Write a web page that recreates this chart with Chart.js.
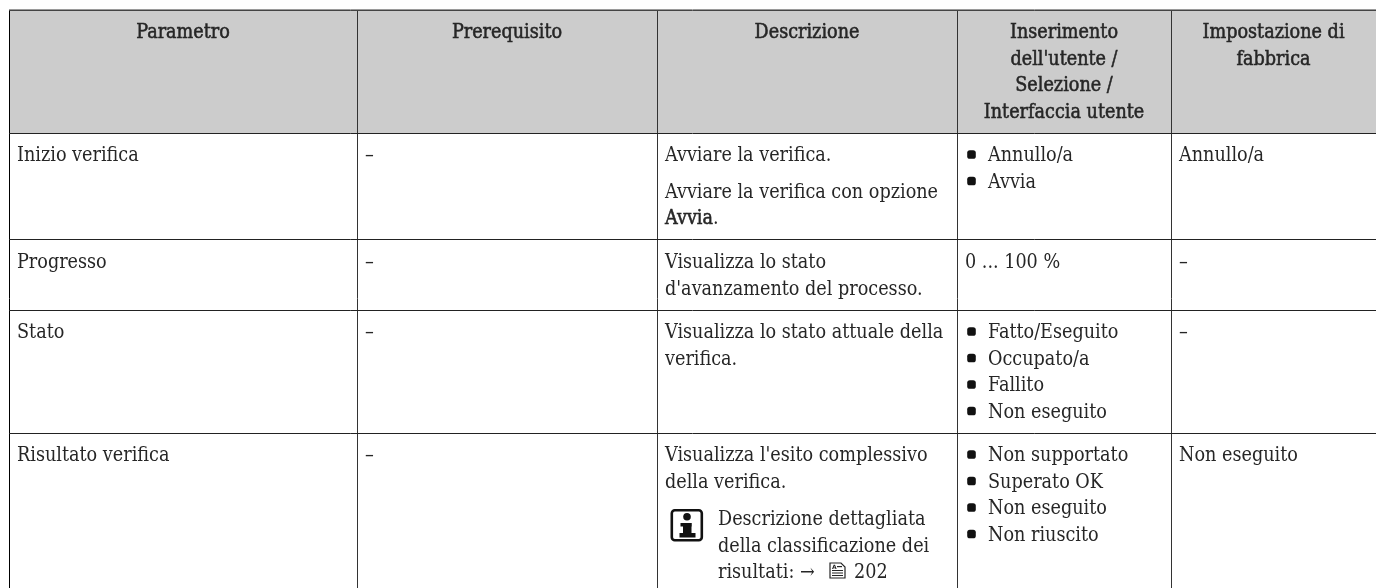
<!DOCTYPE html>
<html>
<head>
<meta charset="utf-8">
<title>Parametri verifica</title>
<script src="https://cdn.jsdelivr.net/npm/chart.js@4.4.1/dist/chart.umd.min.js"></script>
<style>
  html, body { margin: 0; background: #fff; }
  canvas { display: block; }
</style>
</head>
<body>
<canvas id="table" width="1376" height="588"></canvas>
<script>
// Table content, one list per column
const headers = [
  ['Parametro'],
  ['Prerequisito'],
  ['Descrizione'],
  ['Inserimento', "dell'utente /", 'Selezione /', 'Interfaccia utente'],
  ['Impostazione di', 'fabbrica']
];
const parametro = ['Inizio verifica', 'Progresso', 'Stato', 'Risultato verifica'];
const prerequisito = ['–', '–', '–', '–'];
const descrizione = [
  [['Avviare la verifica.'], ['Avviare la verifica con opzione', '**Avvia**.']],
  [['Visualizza lo stato', "d'avanzamento del processo."]],
  [['Visualizza lo stato attuale della', 'verifica.']],
  [["Visualizza l'esito complessivo", 'della verifica.']]
];
const nota = ['Descrizione dettagliata', 'della classificazione dei', 'risultati: →'];
const notaPagina = '202';
const inserimento = [
  ['Annullo/a', 'Avvia'],
  '0 ... 100 %',
  ['Fatto/Eseguito', 'Occupato/a', 'Fallito', 'Non eseguito'],
  ['Non supportato', 'Superato OK', 'Non eseguito', 'Non riuscito']
];
const impostazione = ['Annullo/a', '–', '–', 'Non eseguito'];

// Table rulings, used as axis ticks
const colEdges = [9, 357, 657, 957, 1171];
const rowEdges = [9, 10, 133, 240, 310, 433];

const FONT = '"DejaVu Serif Condensed", "DejaVu Serif"';
const SIZE = 19.6;
const INK = '#262626';
const LINE = 26.5;
const PAD = 8;
const FIRST = 28;

// bullets go through the scales like any other point
const bullets = [];
inserimento.forEach((cell, r) => {
  if (!Array.isArray(cell)) return;
  cell.forEach((_, i) => bullets.push({ x: colEdges[3] + 14.5, y: rowEdges[r + 2] + FIRST + i * LINE - 6.5 }));
});

// medium weight look: regular glyphs with a thin outline
function fillMedium(ctx, text, x, y) {
  ctx.lineWidth = 0.5;
  ctx.strokeStyle = ctx.fillStyle;
  ctx.strokeText(text, x, y);
  ctx.fillText(text, x, y);
}

function drawRich(ctx, text, x, y) {
  text.split('**').forEach((part, i) => {
    if (i % 2) fillMedium(ctx, part, x, y);
    else ctx.fillText(part, x, y);
    x += ctx.measureText(part).width;
  });
}

function drawInfoIcon(ctx, x, y) {
  ctx.strokeStyle = '#111';
  ctx.fillStyle = '#111';
  ctx.lineWidth = 2.6;
  ctx.beginPath();
  ctx.roundRect(x + 1.3, y + 1.3, 30, 30, 3);
  ctx.stroke();
  ctx.beginPath();
  ctx.arc(x + 16.5, y + 7.8, 3.8, 0, Math.PI * 2);
  ctx.fill();
  ctx.fillRect(x + 10, y + 14, 11, 3.5);
  ctx.fillRect(x + 12.5, y + 14, 8.5, 12);
  ctx.fillRect(x + 9, y + 24, 16, 4.5);
}

function drawBookIcon(ctx, x, y) {
  ctx.strokeStyle = INK;
  ctx.fillStyle = INK;
  ctx.lineWidth = 1.2;
  // page with a folded corner
  ctx.beginPath();
  ctx.moveTo(x + 1, y + 1);
  ctx.lineTo(x + 12, y + 1);
  ctx.lineTo(x + 16, y + 5);
  ctx.lineTo(x + 16, y + 16);
  ctx.lineTo(x + 1, y + 16);
  ctx.closePath();
  ctx.stroke();
  ctx.fillRect(x + 8, y + 4, 5, 1.2);
  ctx.font = 'bold 6px "DejaVu Sans"';
  ctx.textAlign = 'left';
  ctx.fillText('A', x + 3, y + 6.5);
  [8, 10.5, 13].forEach(dy => ctx.fillRect(x + 3, y + dy, 11, 1));
  ctx.font = SIZE + 'px ' + FONT;
}

const tablePlugin = {
  id: 'tablePlugin',
  afterDraw(chart) {
    const { ctx, scales: { x: sx, y: sy } } = chart;
    const cx = v => sx.getPixelForValue(v);
    const cy = v => sy.getPixelForValue(v);
    ctx.save();
    ctx.textBaseline = 'alphabetic';
    ctx.fillStyle = INK;
    ctx.font = SIZE + 'px ' + FONT;

    // header
    ctx.textAlign = 'center';
    const colEnds = colEdges.slice(1).concat(1376);
    headers.forEach((lines, c) => {
      const mid = (cx(colEdges[c]) + cx(colEnds[c])) / 2;
      lines.forEach((t, i) => fillMedium(ctx, t, mid, cy(rowEdges[1]) + 28 + i * LINE));
    });

    // body
    ctx.textAlign = 'left';
    parametro.forEach((t, r) => {
      const top = cy(rowEdges[r + 2]);
      ctx.fillText(t, cx(colEdges[0]) + PAD, top + FIRST);
      ctx.fillText(prerequisito[r], cx(colEdges[1]) + PAD, top + FIRST);

      let y = top + FIRST;
      descrizione[r].forEach(par => {
        par.forEach(line => {
          drawRich(ctx, line, cx(colEdges[2]) + PAD, y);
          y += LINE;
        });
        y += 10;
      });

      const cell = inserimento[r];
      if (Array.isArray(cell)) {
        cell.forEach((t, i) => ctx.fillText(t, cx(colEdges[3]) + 31, top + FIRST + i * LINE));
      } else {
        ctx.fillText(cell, cx(colEdges[3]) + PAD, top + FIRST);
      }
      ctx.fillText(impostazione[r], cx(colEdges[4]) + PAD, top + FIRST);
    });

    // note with the info icon in the last row
    const noteX = cx(colEdges[2]) + 61;
    const noteY = cy(rowEdges[5]) + 92;
    drawInfoIcon(ctx, cx(colEdges[2]) + 13.5, noteY - 16);
    ctx.fillStyle = INK;
    nota.forEach((t, i) => ctx.fillText(t, noteX, noteY + i * LINE));
    drawBookIcon(ctx, cx(colEdges[2]) + 172, noteY + 37);
    ctx.fillStyle = INK;
    ctx.fillText(notaPagina, cx(colEdges[2]) + 197, noteY + 2 * LINE);
    ctx.restore();
  }
};

new Chart(document.getElementById('table'), {
  type: 'scatter',
  data: {
    datasets: [
      {
        // header band
        type: 'line',
        data: [{ x: colEdges[0], y: rowEdges[2] }, { x: 1376, y: rowEdges[2] }],
        fill: { target: { value: rowEdges[1] } },
        backgroundColor: '#cccccc',
        borderWidth: 0,
        pointRadius: 0
      },
      {
        data: bullets,
        pointStyle: 'rectRounded',
        pointRadius: 5,
        backgroundColor: '#111',
        borderWidth: 0
      }
    ]
  },
  options: {
    responsive: false,
    animation: false,
    layout: { autoPadding: false, padding: { left: colEdges[0], top: rowEdges[0] } },
    plugins: { legend: { display: false }, tooltip: { enabled: false } },
    scales: {
      x: {
        type: 'linear',
        min: colEdges[0],
        max: 1376,
        afterBuildTicks: axis => { axis.ticks = colEdges.map(value => ({ value })); },
        ticks: { display: false },
        border: { display: false },
        grid: {
          z: 1,
          drawTicks: false,
          color: ctx => ctx.index === 0 ? '#000' : '#333',
          lineWidth: 1
        }
      },
      y: {
        type: 'linear',
        reverse: true,
        min: rowEdges[0],
        max: 588,
        afterBuildTicks: axis => { axis.ticks = rowEdges.map(value => ({ value })); },
        ticks: { display: false },
        border: { display: false },
        grid: {
          z: 1,
          drawTicks: false,
          color: ctx => ctx.index === 0 ? '#9a9a9a' : (ctx.index === 1 ? '#444' : '#222'),
          lineWidth: 1
        }
      }
    }
  },
  plugins: [tablePlugin]
});
</script>
</body>
</html>
